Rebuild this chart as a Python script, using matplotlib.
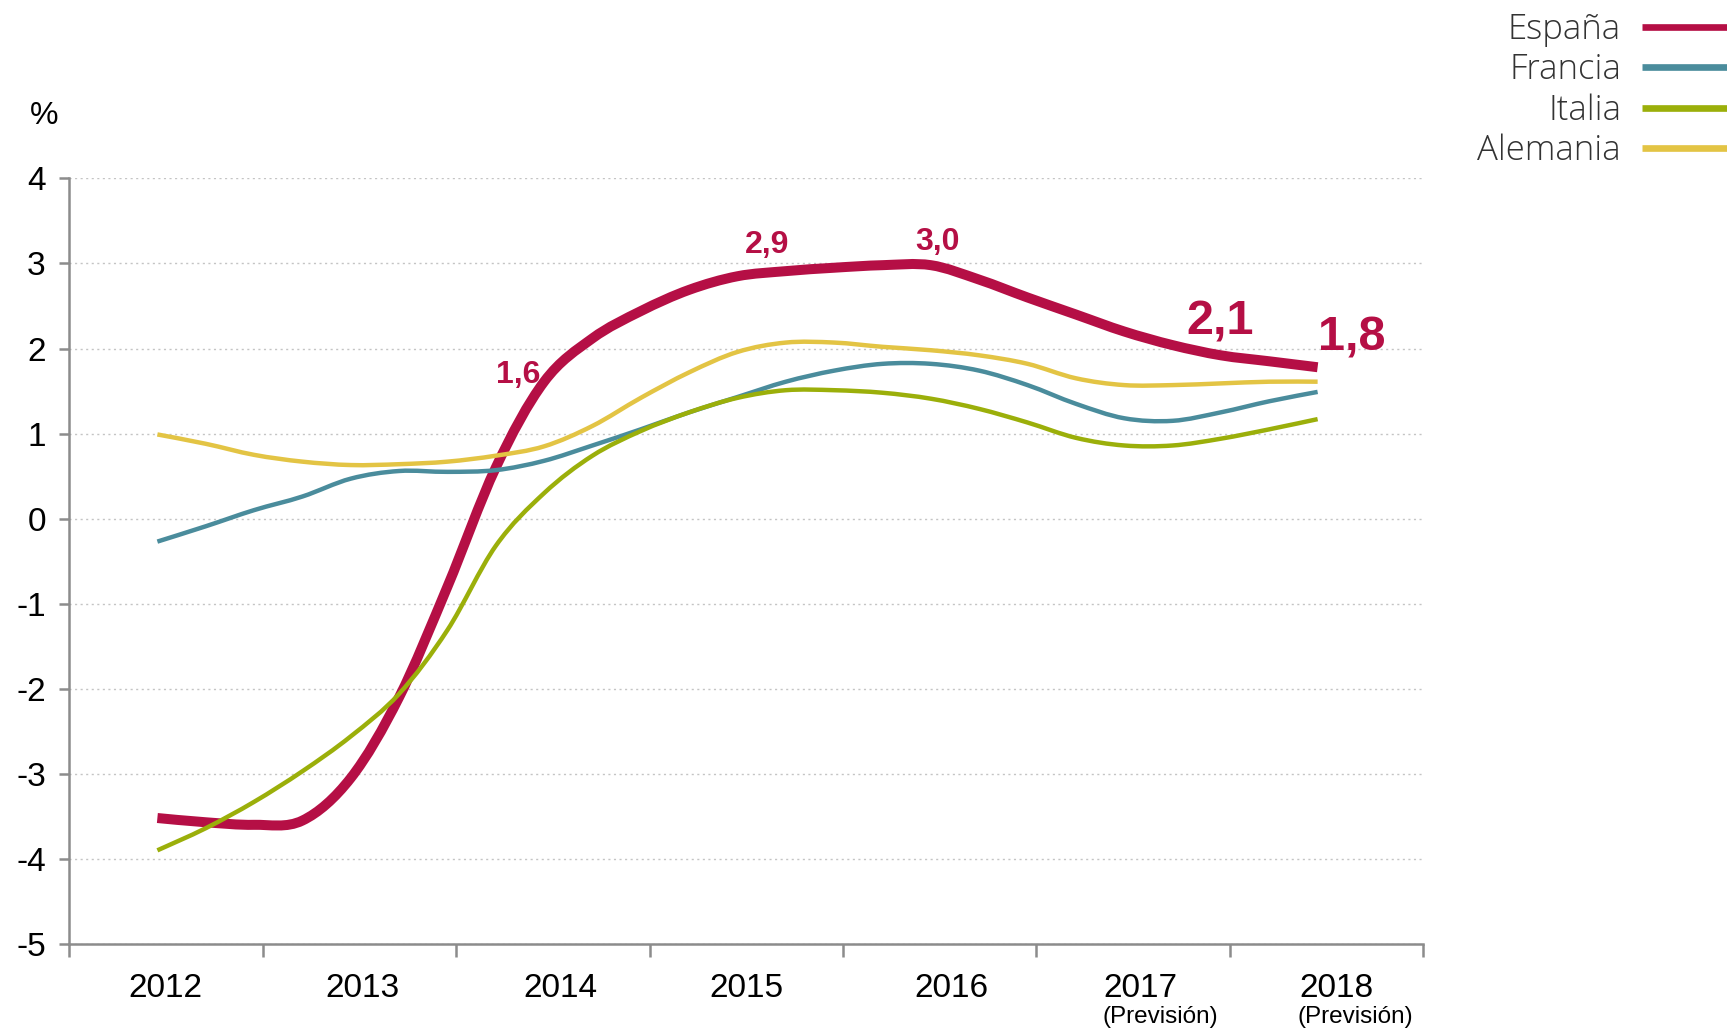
import matplotlib.pyplot as plt
import numpy as np
from matplotlib.lines import Line2D
from matplotlib.path import Path
from matplotlib.patches import PathPatch

# crecimiento del PIB, datos trimestrales (%), 2012 -> 2018 (previsión)
quarters = np.arange(25) * 0.25 + 0.455  # posición en el eje (año i ocupa [i, i+1])

espana = [-3.52, -3.57, -3.60, -3.55, -3.05, -2.10, -0.80, 0.60, 1.61,
          2.12, 2.44, 2.69, 2.85, 2.91, 2.95, 2.98, 2.98, 2.81, 2.60, 2.40,
          2.20, 2.04, 1.92, 1.85, 1.78]
francia = [-0.27, -0.09, 0.10, 0.26, 0.47, 0.56, 0.55, 0.57, 0.68,
           0.86, 1.05, 1.25, 1.43, 1.61, 1.74, 1.82, 1.82, 1.74, 1.57, 1.35,
           1.18, 1.15, 1.25, 1.38, 1.49]
italia = [-3.90, -3.64, -3.33, -2.97, -2.56, -2.06, -1.31, -0.32, 0.30,
          0.74, 1.03, 1.25, 1.42, 1.51, 1.51, 1.48, 1.41, 1.29, 1.13, 0.95,
          0.86, 0.86, 0.94, 1.05, 1.17]
alemania = [0.99, 0.88, 0.75, 0.67, 0.63, 0.64, 0.67, 0.74, 0.85,
            1.09, 1.42, 1.72, 1.96, 2.07, 2.07, 2.02, 1.98, 1.92, 1.82, 1.65,
            1.57, 1.57, 1.59, 1.61, 1.61]

years = ['2012', '2013', '2014', '2015', '2016', '2017', '2018']
forecast = [False, False, False, False, False, True, True]
yticks = [-5, -4, -3, -2, -1, 0, 1, 2, 3, 4]

# valores anuales de España que se rotulan
spain_labels = ['1,6', '2,9', '3,0', '2,1', '1,8']

c_es = '#b50f45'
c_fr = '#4a8c9c'
c_it = '#9baf0a'
c_de = '#e3c444'
grey = '#8c8c8c'


def smooth_path(x, y):
    # línea suavizada (tipo Excel): bezier cúbico por los puntos
    p = np.column_stack([x, y])
    ext = np.vstack([p[0], p, p[-1]])
    verts = [p[0]]
    codes = [Path.MOVETO]
    for i in range(len(p) - 1):
        c1 = ext[i + 1] + (ext[i + 2] - ext[i]) / 6
        c2 = ext[i + 2] - (ext[i + 3] - ext[i + 1]) / 6
        verts += [c1, c2, p[i + 1]]
        codes += [Path.CURVE4] * 3
    return Path(verts, codes)


plt.rcParams['font.family'] = ['Liberation Sans', 'DejaVu Sans']

fig = plt.figure(figsize=(17.27, 10.32), dpi=100)
ax = fig.add_axes([63 / 1568, 1 - 857 / 937, (1292 - 63) / 1568, (857 - 162) / 937])

series = [(espana, c_es, 7.2, 3), (francia, c_fr, 3.2, 4),
          (italia, c_it, 3.2, 5), (alemania, c_de, 3.2, 6)]
for vals, col, lw, z in series:
    ax.add_patch(PathPatch(smooth_path(quarters, vals), fill=False, edgecolor=col,
                           lw=lw, capstyle='butt', joinstyle='round', zorder=z))

label_x = [2.32, 3.61, 4.49, 5.95, 6.63]
label_y = [1.60, 3.12, 3.16, 2.17, 1.98]
label_size = [23, 23, 23, 35, 35]
for txt, x, y, s in zip(spain_labels, label_x, label_y, label_size):
    ax.text(x, y, txt, color=c_es, fontsize=s, fontweight='bold',
            ha='center', va='baseline', zorder=7)

ax.set_xlim(0, 7)
ax.set_ylim(-5, 4)
ax.set_yticks(yticks)
ax.set_yticklabels([str(v) for v in yticks])
ax.set_xticks(range(8))
ax.set_xticklabels([])
ax.tick_params(axis='y', length=7, width=1.8, color=grey, labelsize=24, pad=10)
ax.tick_params(axis='x', length=9, width=1.8, color=grey)

ax.yaxis.grid(True, linestyle=(0, (1.5, 2.5)), color='#c4c4c4', lw=1)
ax.set_axisbelow(True)
for s in ['top', 'right']:
    ax.spines[s].set_visible(False)
for s in ['left', 'bottom']:
    ax.spines[s].set_color(grey)
    ax.spines[s].set_linewidth(1.8)

tr = ax.get_xaxis_transform()
year_x = [0.495, 1.515, 2.54, 3.50, 4.56, 5.54, 6.55]
for x, yr, prev in zip(year_x, years, forecast):
    ax.text(x, -0.069, yr, transform=tr, ha='center', va='baseline', fontsize=24)
    if prev:
        ax.text(x + 0.1, -0.104, '(Previsión)', transform=tr, ha='center',
                va='baseline', fontsize=17.5)

ax.text(-0.0187, 1.0705, '%', transform=ax.transAxes, ha='center', va='baseline', fontsize=23)

handles = [Line2D([], [], color=c, lw=4.8, solid_capstyle='butt')
           for c in [c_es, c_fr, c_it, c_de]]
leg = fig.legend(handles, ['España', 'Francia', 'Italia', 'Alemania'],
                 loc='upper right', bbox_to_anchor=(1.0, 0.988), markerfirst=False,
                 frameon=False, borderpad=0.0, borderaxespad=0, handlelength=2.45,
                 handletextpad=0.6, labelspacing=0.17,
                 prop={'family': ['Open Sans', 'DejaVu Sans'], 'weight': 'light', 'size': 25})
for t in leg.get_texts():
    t.set_color('#333333')

fig.savefig('out.png', dpi=100)
